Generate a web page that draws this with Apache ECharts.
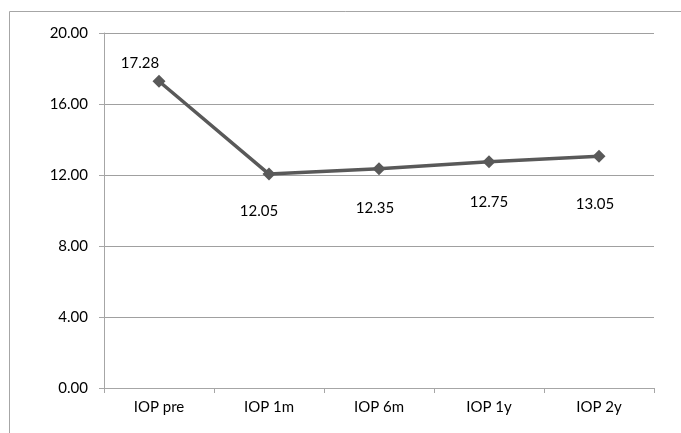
<!DOCTYPE html>
<html>
<head>
<meta charset="utf-8">
<script src="https://cdn.jsdelivr.net/npm/echarts@6/dist/echarts.min.js"></script>
<style>html,body{margin:0;padding:0;background:#fff}#c{width:681px;height:433px}</style>
</head>
<body>
<div id="c"></div>
<script>
var categories = ['IOP pre', 'IOP 1m', 'IOP 6m', 'IOP 1y', 'IOP 2y'];
var values = [17.28, 12.05, 12.35, 12.75, 13.05];
var yTicks = [0, 4, 8, 12, 16, 20];
var labelOffsets = [[-19, -18], [-10, 37], [-4, 39], [0, 40], [-4, 48]];

var chart = echarts.init(document.getElementById('c'), null, {renderer: 'canvas'});
var font = 'Lato, "Open Sans", sans-serif';
chart.setOption({
  animation: false,
  backgroundColor: '#fff',
  graphic: [{
    type: 'rect', silent: true,
    shape: {x: 9.5, y: 11.5, width: 720, height: 500},
    style: {fill: 'none', stroke: '#a6a6a6', lineWidth: 1}
  }],
  grid: {left: 104, right: 27, top: 33, bottom: 45},
  xAxis: {
    type: 'category',
    data: categories,
    boundaryGap: true,
    axisLine: {lineStyle: {color: '#a6a6a6', width: 1}},
    axisTick: {show: true, length: 5, lineStyle: {color: '#a6a6a6'}},
    axisLabel: {color: '#000', fontFamily: font, fontSize: 15, margin: 12}
  },
  yAxis: {
    type: 'value',
    min: yTicks[0], max: yTicks[yTicks.length - 1], interval: 4,
    axisLine: {show: true, lineStyle: {color: '#a6a6a6', width: 1}},
    axisTick: {show: true, length: 5, lineStyle: {color: '#a6a6a6'}},
    splitLine: {lineStyle: {color: '#a0a0a0', width: 1}},
    axisLabel: {color: '#000', fontFamily: font, fontSize: 15, margin: 16,
      formatter: function (v) { return v.toFixed(2); }}
  },
  series: [{
    type: 'line',
    data: values.map(function (v, i) {
      return {value: v, label: {offset: labelOffsets[i]}};
    }),
    symbol: 'diamond',
    symbolSize: 13,
    lineStyle: {color: '#595959', width: 3.5},
    itemStyle: {color: '#595959'},
    label: {show: true, position: 'inside', color: '#000', fontFamily: font, fontSize: 15,
      formatter: function (p) { return p.value.toFixed(2); }}
  }]
});
</script>
</body>
</html>
